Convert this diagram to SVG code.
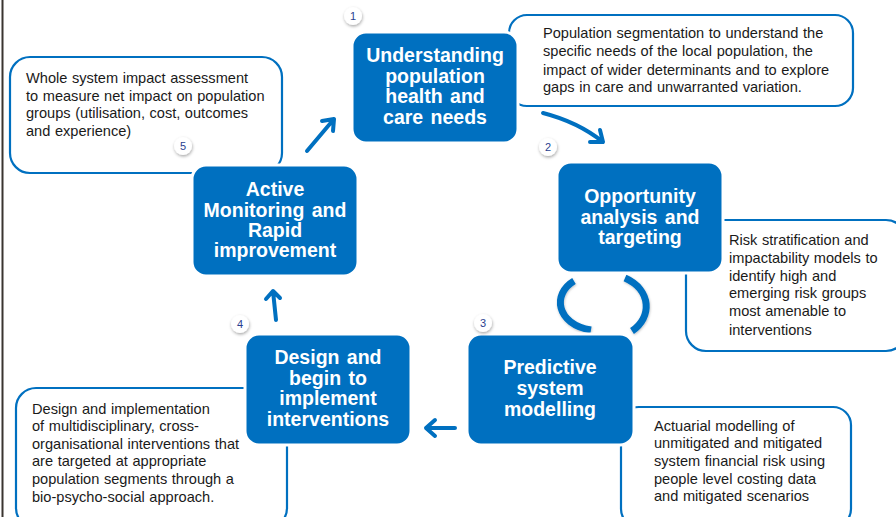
<svg xmlns="http://www.w3.org/2000/svg" width="896" height="517" viewBox="0 0 896 517">
<style>
.box{fill:#0070C0;stroke:#fff;stroke-width:3}
.bt{font-family:"Liberation Sans",Arial,sans-serif;font-weight:bold;font-size:19.5px;fill:#fff;text-anchor:middle;word-spacing:2px}
.co{fill:#fff;stroke:#0070C0;stroke-width:2.2}
.ct{font-family:"Liberation Sans",Arial,sans-serif;font-size:14.6px;fill:#1a1a1a;word-spacing:0.5px}
.badge{fill:#fff;filter:url(#sh)}
.bn{font-family:"Liberation Sans",Arial,sans-serif;font-size:11px;fill:#2a3f8f;text-anchor:middle}
.ar{fill:none;stroke:#0070C0;stroke-width:4;stroke-linecap:round;stroke-linejoin:round}
.cyc{fill:none;stroke:#0070C0;stroke-width:7;filter:url(#sh2)}
</style>
<defs>
<filter id="sh" x="-50%" y="-50%" width="200%" height="200%"><feDropShadow dx="0.5" dy="1.5" stdDeviation="1.5" flood-color="#000" flood-opacity="0.35"/></filter>
<filter id="sh2" x="-30%" y="-30%" width="160%" height="160%"><feDropShadow dx="0.5" dy="1" stdDeviation="1" flood-color="#000" flood-opacity="0.25"/></filter>
</defs>
<rect width="896" height="517" fill="#fff"/>
<line x1="2.5" y1="0" x2="2.5" y2="517" stroke="#3a3530" stroke-width="2"/>

<g id="callout-5">
<rect class="co" x="10" y="57" width="272" height="116" rx="20"/>
<text class="ct"><tspan x="26" y="83">Whole system impact assessment</tspan><tspan x="26" y="101">to measure net impact on population</tspan><tspan x="26" y="118">groups (utilisation, cost, outcomes</tspan><tspan x="26" y="136">and experience)</tspan></text>
</g>
<g id="callout-1">
<rect class="co" x="509" y="15" width="344" height="91" rx="18"/>
<text class="ct"><tspan x="543" y="38">Population segmentation to understand the</tspan><tspan x="543" y="56">specific needs of the local population, the</tspan><tspan x="543" y="75">impact of wider determinants and to explore</tspan><tspan x="543" y="92">gaps in care and unwarranted variation.</tspan></text>
</g>
<g id="callout-2">
<rect class="co" x="686" y="220" width="220" height="131" rx="20"/>
<text class="ct"><tspan x="729" y="245">Risk stratification and</tspan><tspan x="729" y="263">impactability models to</tspan><tspan x="729" y="281">identify high and</tspan><tspan x="729" y="298">emerging risk groups</tspan><tspan x="729" y="316">most amenable to</tspan><tspan x="729" y="335">interventions</tspan></text>
</g>
<g id="callout-3">
<rect class="co" x="621" y="407" width="230" height="120" rx="18"/>
<text class="ct"><tspan x="654" y="431">Actuarial modelling of</tspan><tspan x="654" y="448">unmitigated and mitigated</tspan><tspan x="654" y="466">system financial risk using</tspan><tspan x="654" y="484">people level costing data</tspan><tspan x="654" y="501">and mitigated scenarios</tspan></text>
</g>
<g id="callout-4">
<rect class="co" x="16" y="388" width="271" height="140" rx="20"/>
<text class="ct"><tspan x="32" y="414">Design and implementation</tspan><tspan x="32" y="431">of multidisciplinary, cross-</tspan><tspan x="32" y="449">organisational interventions that</tspan><tspan x="32" y="466">are targeted at appropriate</tspan><tspan x="32" y="484">population segments through a</tspan><tspan x="32" y="502">bio-psycho-social approach.</tspan></text>
</g>

<g id="connectors">
<path class="ar" d="M307,151 L334,119 M322,121 L334,119 L333,131"/>
<path class="ar" d="M543,113 Q578,122 603,142 M590,142 L603,142 L600,130"/>
<path class="cyc" d="M574,281 C552,294 556,324 591,330"/>
<path class="cyc" d="M625,278 C652,290 652,318 632,331"/>
<path class="ar" d="M455,428 L426,428 M435,420 L426,428 L435,436"/>
<path class="ar" d="M276,320 L273,291 M266,299 L273,291 L280,298"/>
</g>

<g id="node-1">
<rect class="box" x="352" y="32" width="166" height="111" rx="14"/>
<text class="bt"><tspan x="435" y="62">Understanding</tspan><tspan x="435" y="83">population</tspan><tspan x="435" y="103">health and</tspan><tspan x="435" y="124">care needs</tspan></text>
</g>
<g id="node-2">
<rect class="box" x="557" y="162" width="166" height="111" rx="14"/>
<text class="bt"><tspan x="640" y="203">Opportunity</tspan><tspan x="640" y="224">analysis and</tspan><tspan x="640" y="244">targeting</tspan></text>
</g>
<g id="node-3">
<rect class="box" x="467" y="334" width="167" height="111" rx="14"/>
<text class="bt"><tspan x="550" y="374">Predictive</tspan><tspan x="550" y="395">system</tspan><tspan x="550" y="416">modelling</tspan></text>
</g>
<g id="node-4">
<rect class="box" x="245" y="334" width="166" height="111" rx="14"/>
<text class="bt"><tspan x="328" y="364">Design and</tspan><tspan x="328" y="385">begin to</tspan><tspan x="328" y="405">implement</tspan><tspan x="328" y="426">interventions</tspan></text>
</g>
<g id="node-5">
<rect class="box" x="192" y="165" width="166" height="111" rx="14"/>
<text class="bt"><tspan x="275" y="196">Active</tspan><tspan x="275" y="217">Monitoring and</tspan><tspan x="275" y="237">Rapid</tspan><tspan x="275" y="257">improvement</tspan></text>
</g>

<g id="badges">
<circle class="badge" cx="353" cy="16" r="9"/><text class="bn" x="353" y="20">1</text>
<circle class="badge" cx="548" cy="147" r="9"/><text class="bn" x="548" y="151">2</text>
<circle class="badge" cx="483" cy="323" r="9"/><text class="bn" x="483" y="327">3</text>
<circle class="badge" cx="240" cy="324" r="9"/><text class="bn" x="240" y="328">4</text>
<circle class="badge" cx="183" cy="146" r="9"/><text class="bn" x="183" y="150">5</text>
</g>
</svg>
